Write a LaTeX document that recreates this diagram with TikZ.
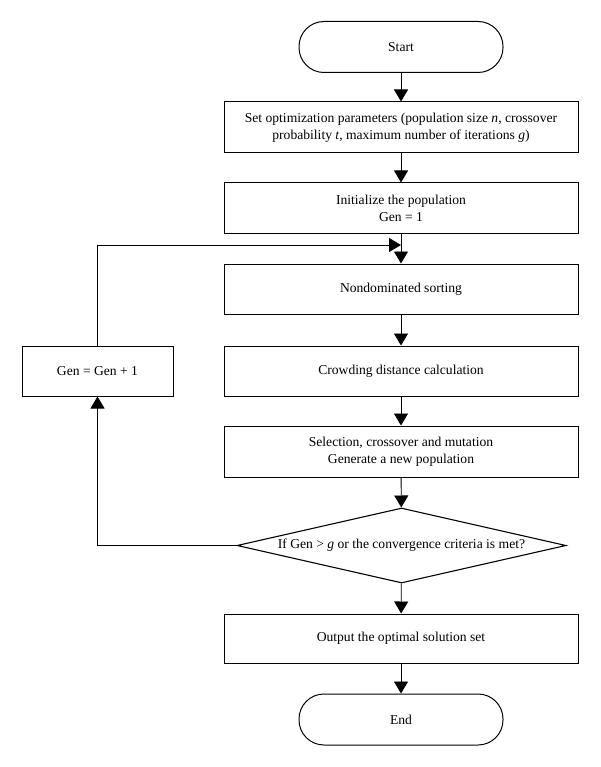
\documentclass[tikz,border=0pt]{standalone}
\usepackage{fontspec}
\setmainfont{Liberation Serif}
\usetikzlibrary{shapes.geometric,arrows.meta}
\begin{document}
\begin{tikzpicture}[x=1pt,y=-1pt,
  every node/.style={font=\fontsize{13.6}{17}\selectfont},
  proc/.style={draw,line width=1pt,rectangle,minimum width=354pt,minimum height=50pt,align=center,inner sep=0pt},
  term/.style={draw,line width=1pt,rectangle,rounded corners=25pt,minimum width=204pt,minimum height=51pt,inner sep=0pt},
  dec/.style={draw,line width=1.1pt,diamond,aspect=4.39,minimum width=329pt,minimum height=75pt,inner sep=0pt},
  conn/.style={line width=0.9pt,-{Triangle[length=12pt,width=14pt]}}]
\useasboundingbox (0,0) rectangle (600,767);
\node[term] (start) at (401,47) {Start};
\node[proc,minimum height=51pt] (p1) at (401,127.5) {Set optimization parameters (population size \textit{n}, crossover\\probability \textit{t}, maximum number of iterations \textit{g})};
\node[proc] (p2) at (401,208) {Initialize the population\\Gen = 1};
\node[proc] (p3) at (401,289) {Nondominated sorting};
\node[proc] (p4) at (401,371) {Crowding distance calculation};
\node[proc,minimum height=51pt] (p5) at (401,451.5) {Selection, crossover and mutation\\Generate a new population};
\node[dec] (d) at (401.5,545.5) {If Gen {>} \textit{g} or the convergence criteria is met?};
\node[proc,minimum height=49pt] (out) at (401,638.5) {Output the optimal solution set};
\node[term] (end) at (401,719.5) {End};
\node[draw,line width=1pt,minimum width=151pt,minimum height=50pt,inner sep=0pt] (gen) at (97.5,371) {Gen = Gen + 1};
\coordinate (j) at (401,245);
\draw[conn] (start) -- (p1);
\draw[conn] (p1) -- (p2);
\draw[conn] (p2) -- (p3);
\draw[conn] (p3) -- (p4);
\draw[conn] (p4) -- (p5);
\draw[conn] (p5) -- (d);
\draw[conn] (d) -- (out);
\draw[conn] (out) -- (end);
\draw[conn] (d.west) -| (gen.south);
\draw[conn] (gen.north) |- (j);
\end{tikzpicture}
\end{document}
